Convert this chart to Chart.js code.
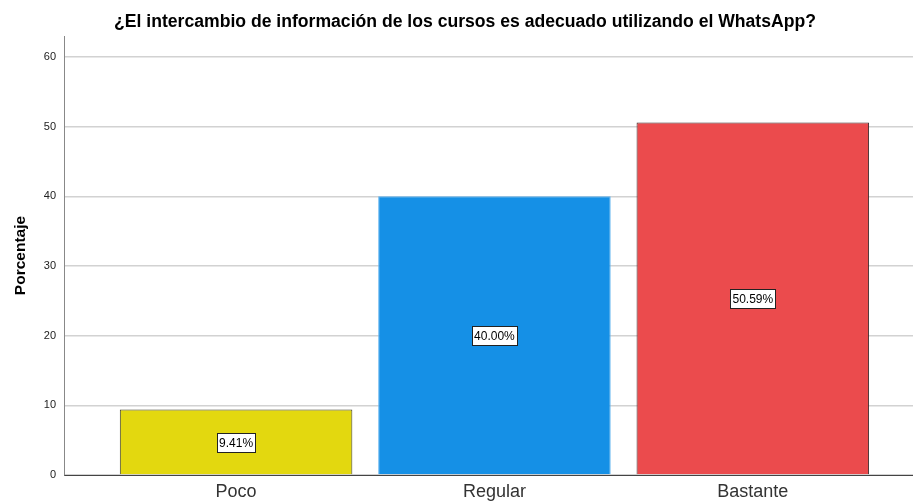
<!DOCTYPE html>
<html><head><meta charset="utf-8">
<script src="https://cdn.jsdelivr.net/npm/chart.js@4"></script>
<style>html,body{margin:0;padding:0;background:#fff}#wrap{width:913px;height:501px}</style>
</head><body><div id="wrap"><canvas id="c" width="913" height="501"></canvas></div>
<script>
const categories = ["Poco", "Regular", "Bastante"];
const values = [9.41, 40.00, 50.59];
const labels = ["9.41%", "40.00%", "50.59%"];
const yTicks = [0, 10, 20, 30, 40, 50, 60];
const colors = ["#E3D80F", "#1590E6", "#EB4B4D"];
const borderColors = ["#3a3a2a", "#5cb2ef", "#3a2a2a"];
const titleText = "¿El intercambio de información de los cursos es adecuado utilizando el WhatsApp?";
const yTitle = "Porcentaje";

const labelPlugin = {
  id: 'boxLabels',
  afterDatasetsDraw(chart) {
    const ctx = chart.ctx;
    const meta = chart.getDatasetMeta(0);
    const ys = chart.scales.y;
    ctx.save();
    ctx.font = '12px Arial, "Liberation Sans"';
    ctx.textAlign = 'center';
    ctx.textBaseline = 'middle';
    meta.data.forEach((bar, i) => {
      const x = bar.x;
      const y = ys.getPixelForValue(values[i] / 2);
      const w = Math.round(ctx.measureText(labels[i]).width + 4);
      const h = 19;
      const left = Math.round(x - w / 2) + 0.5, top = Math.round(y - h / 2) + 0.5;
      ctx.fillStyle = '#fff';
      ctx.fillRect(left, top, w, h);
      ctx.strokeStyle = '#222';
      ctx.lineWidth = 1;
      ctx.strokeRect(left, top, w, h);
      ctx.fillStyle = '#000';
      ctx.fillText(labels[i], x, y + 1);
    });
    ctx.restore();
  }
};
const titlePlugin = {
  id: 'topTitle',
  afterDraw(chart) {
    const ctx = chart.ctx;
    ctx.save();
    ctx.font = 'bold 17.6px Arial, "Liberation Sans"';
    ctx.fillStyle = '#000';
    ctx.textAlign = 'center';
    ctx.textBaseline = 'middle';
    ctx.fillText(titleText, 465, 22);
    ctx.restore();
  }
};

new Chart(document.getElementById('c'), {
  type: 'bar',
  data: {
    datasets: [{
      data: values.map((v, i) => ({ x: i, y: v })),
      backgroundColor: colors,
      borderColor: borderColors,
      borderWidth: 1,
      barPercentage: 0.9,
      categoryPercentage: 1.0
    }]
  },
  options: {
    responsive: false,
    animation: false,
    devicePixelRatio: 1,
    layout: { padding: { top: 36, right: 0, left: 0, bottom: 0 } },
    plugins: { legend: { display: false }, tooltip: { enabled: false }, title: { display: false } },
    scales: {
      x: {
        type: 'linear',
        offset: false,
        min: -0.666,
        max: 2.62,
        afterBuildTicks(s) { s.ticks = categories.map((c, i) => ({ value: i })); },
        afterFit(s) { s.height = 26; },
        grid: { display: false, drawTicks: false },
        border: { display: true, color: '#444', width: 1 },
        ticks: {
          callback: (v) => categories[v] ?? '',
          font: { family: 'Arial, "Liberation Sans"', size: 18 },
          color: '#333',
          padding: 6,
          maxRotation: 0,
          autoSkip: false
        }
      },
      y: {
        min: 0,
        max: 63,
        afterBuildTicks(s) { s.ticks = yTicks.map(v => ({ value: v })); },
        afterFit(s) { s.width = 64; },
        grid: { color: '#d2d2d2', lineWidth: 1.5, drawTicks: false },
        border: { display: true, color: '#888', width: 1 },
        ticks: {
          font: { family: 'Arial, "Liberation Sans"', size: 11 },
          color: '#222',
          padding: 8
        },
        title: {
          display: true,
          text: yTitle,
          font: { family: 'Arial, "Liberation Sans"', size: 15.5, weight: 'bold' },
          color: '#000',
          padding: { top: 11, bottom: 0 }
        }
      }
    }
  },
  plugins: [labelPlugin, titlePlugin]
});
</script></body></html>
